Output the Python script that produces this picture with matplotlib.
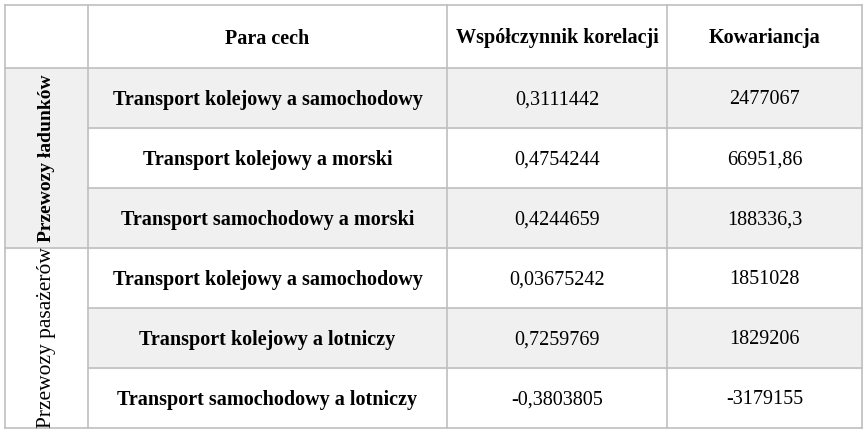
import matplotlib.pyplot as plt
from matplotlib.patches import Rectangle

headers = ["Para cech", "Współczynnik korelacji", "Kowariancja"]
groups = ["Przewozy ładunków", "Przewozy pasażerów"]
pairs = ["Transport kolejowy a samochodowy", "Transport kolejowy a morski",
         "Transport samochodowy a morski", "Transport kolejowy a samochodowy",
         "Transport kolejowy a lotniczy", "Transport samochodowy a lotniczy"]
correlations = ["0,3111442", "0,4754244", "0,4244659", "0,03675242", "0,7259769", "-0,3803805"]
covariances = ["2477067", "66951,86", "188336,3", "1851028", "1829206", "-3179155"]

plt.rcParams['font.family'] = ['Liberation Serif', 'DejaVu Serif']
fig = plt.figure(figsize=(8.68, 4.32), dpi=100)
ax = fig.add_axes([0, 0, 1, 1])
ax.set_xlim(0, 868)
ax.set_ylim(432, 0)
ax.axis('off')

xs = [5, 88, 447, 667, 862]
top, head_h, row_h = 5, 63, 60
line = '#bfbfbf'
grey = '#f0f0f0'

# shading
for i in range(len(pairs)):
    y0 = top + head_h + i * row_h
    if i % 2 == 0:
        ax.add_patch(Rectangle((xs[1], y0), xs[4] - xs[1], row_h, color=grey, zorder=0))
ax.add_patch(Rectangle((xs[0], top + head_h), xs[1] - xs[0], 3 * row_h, color=grey, zorder=0))

# grid lines
bottom = top + head_h + len(pairs) * row_h
for x in xs:
    ax.plot([x, x], [top, bottom], color=line, lw=1.2)
ax.plot([xs[0], xs[4]], [top, top], color=line, lw=1.2)
for i in range(len(pairs) + 1):
    y = top + head_h + i * row_h
    if i in (1, 2, 4, 5):
        ax.plot([xs[1], xs[4]], [y, y], color=line, lw=1.2)
    else:
        ax.plot([xs[0], xs[4]], [y, y], color=line, lw=1.2)

# header
for j, h in enumerate(headers):
    ax.text((xs[j + 1] + xs[j + 2]) / 2, top + head_h / 2 + 2, h, ha='center', va='center',
            fontsize=14.5, fontweight='bold')

for i in range(len(pairs)):
    yc = top + head_h + (i + 0.5) * row_h + 2
    ax.text((xs[1] + xs[2]) / 2, yc, pairs[i], ha='center', va='center', fontsize=14.5, fontweight='bold')
    ax.text((xs[2] + xs[3]) / 2, yc, correlations[i], ha='center', va='center', fontsize=14.5)
    ax.text((xs[3] + xs[4]) / 2, yc, covariances[i], ha='center', va='center', fontsize=14.5)

for g, name in enumerate(groups):
    yc = top + head_h + (g * 3 + 1.5) * row_h
    ax.text((xs[0] + xs[1]) / 2, yc, name, ha='center', va='center', rotation=90,
            fontsize=14 if g == 0 else 15.5, fontweight='bold' if g == 0 else 'normal')

fig.savefig('out.png', dpi=100)
